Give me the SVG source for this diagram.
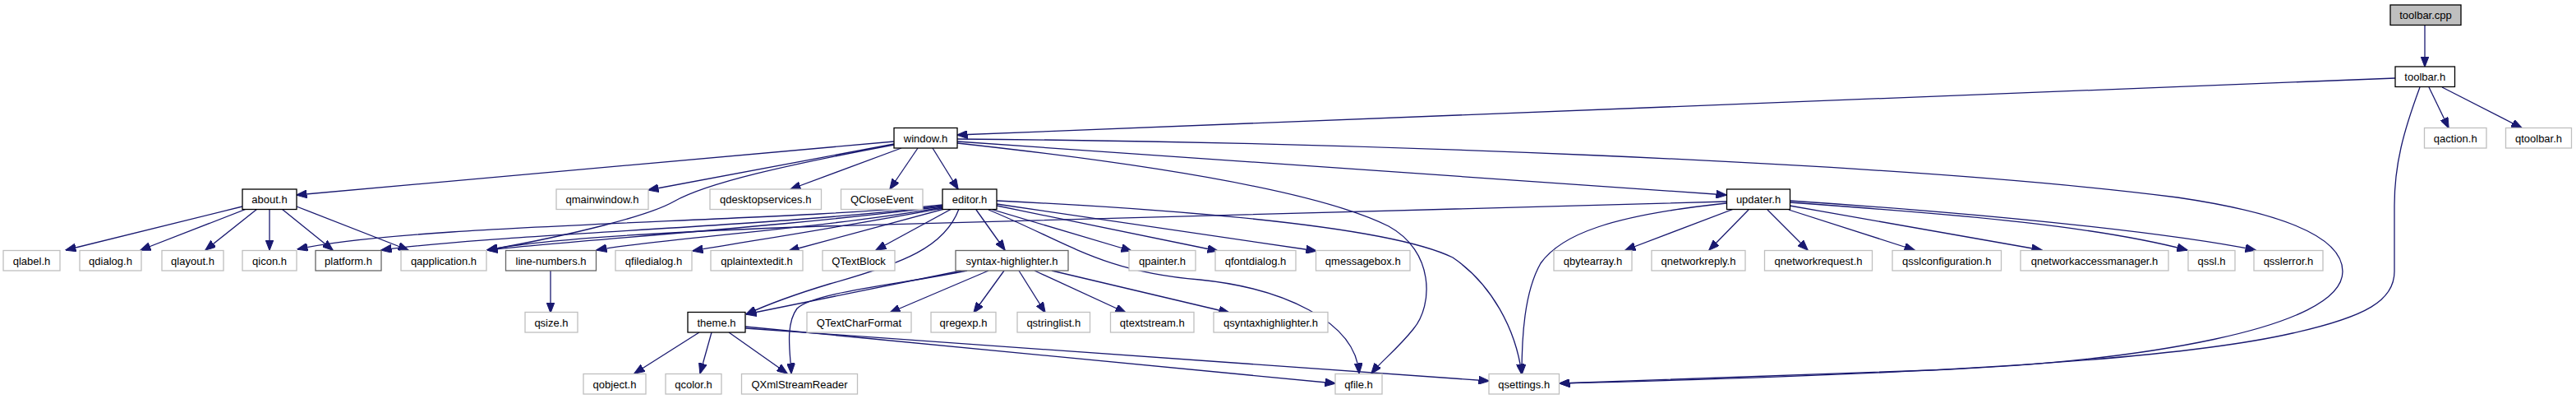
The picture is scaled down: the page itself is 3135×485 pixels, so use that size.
<svg xmlns="http://www.w3.org/2000/svg" width="3135" height="485" viewBox="0 0 3135 485">
<style>
.b rect{fill:#fff;stroke:#000;stroke-width:1.3}
.x rect{fill:#fff;stroke:#bfbfbf;stroke-width:1.3}
.u rect{fill:#fff;stroke:#666;stroke-width:1.3}
.r rect{fill:#bfbfbf;stroke:#000;stroke-width:1.3}
text{font-family:"Liberation Sans",Arial,Helvetica,sans-serif;font-size:13px;fill:#000;text-anchor:middle}
#edges path{fill:none;stroke:#191970;stroke-width:1.3;marker-end:url(#ah)}
</style>
<defs>
<marker id="ah" markerUnits="userSpaceOnUse" markerWidth="13" markerHeight="10" refX="12.5" refY="5" orient="auto">
<path d="M0,0 L13,5 L0,10 z" fill="#191970" stroke="#191970" stroke-width="1"/>
</marker>
</defs>
<rect width="3135" height="485" fill="#fff"/>
<g id="edges">
<path d="M2951,31 L2951,81"/>
<path d="M2915,95 L1165,164"/>
<path d="M2956,106 L2980,155.5"/>
<path d="M2972,106 L3069,155.5"/>
<path d="M2945,106 C2925,160 2914,200 2914,250 L2914,330 C2914,365 2880,385 2790,405 C2650,437 2350,455 1898,466"/>
<path d="M1165,169 C1600,172 2300,195 2650,240 C2800,262 2851,295 2851,330 C2851,400 2600,440 2350,450 L1898,466"/>
<path d="M1088,172 L361,237"/>
<path d="M1088,175 L789,231"/>
<path d="M1097,180 L962,230"/>
<path d="M1117,180 L1083,230"/>
<path d="M1135,180 L1166,230"/>
<path d="M1165,172 L2101,237"/>
<path d="M1165,174 C1450,205 1620,240 1690,275 C1745,305 1745,370 1720,400 C1700,425 1680,440 1669,454"/>
<path d="M1088,176 C960,200 860,222 820,245 C790,262 700,285 593,304"/>
<path d="M295,251 L80,304"/>
<path d="M300,254 L171,304"/>
<path d="M313,254 L250,304"/>
<path d="M328,254 L328,304"/>
<path d="M343,254 L405,304"/>
<path d="M361,251 L497,304"/>
<path d="M1147,249 C950,270 500,272 362,303"/>
<path d="M1147,250 C950,275 600,285 464,304"/>
<path d="M1147,251 C950,276 700,292 593,304"/>
<path d="M1147,252 C1000,278 800,290 726,304"/>
<path d="M1148,253 C1000,280 900,295 843,305"/>
<path d="M1149,254 L960,305"/>
<path d="M1158,254 L1066,304"/>
<path d="M1188,255 L1223,304"/>
<path d="M1205,254 L1377,305"/>
<path d="M1213,250 L1482,305"/>
<path d="M1213,248 L1602,305"/>
<path d="M1203,255 C1300,295 1340,330 1460,340 C1560,350 1650,390 1654,454"/>
<path d="M1213,244 C1500,258 1700,280 1768,313 C1815,345 1845,400 1852,455"/>
<path d="M1167,254 C1150,300 1100,320 1010,345 C960,360 930,372 908,382"/>
<path d="M2101,245 L1000,275 C800,282 650,292 593,304"/>
<path d="M2101,247 C1960,262 1900,285 1875,320 C1855,355 1852,410 1852,455"/>
<path d="M851,404 L772,454"/>
<path d="M866,404 L852,454"/>
<path d="M887,404 L958,454"/>
<path d="M907,397 L1625,466"/>
<path d="M907,399 L1812,463"/>
<path d="M1170,329 L908,382"/>
<path d="M1177,329 C1100,345 990,355 970,375 C955,395 962,430 963,454"/>
<path d="M1203,329 L1083,380"/>
<path d="M1222,329 L1185,380"/>
<path d="M1240,329 L1272,380"/>
<path d="M1259,329 L1370,380"/>
<path d="M1280,329 L1496,380"/>
<path d="M670,329 L670,380"/>
<path d="M2110,254 L1978,304"/>
<path d="M2128,255 L2080,304"/>
<path d="M2151,255 L2200,304"/>
<path d="M2177,255 L2330,304"/>
<path d="M2178,250 L2485,304"/>
<path d="M2178,246 C2400,262 2550,275 2662,304"/>
<path d="M2178,244 C2450,262 2650,285 2745,304"/>
</g>
<g id="nodes">
<g id="n-toolbar-cpp" class="r"><rect x="2909" y="6" width="86" height="24.5"/><text x="2952" y="23">toolbar.cpp</text></g>
<g id="n-toolbar-h" class="b"><rect x="2915" y="81" width="72.5" height="24.5"/><text x="2951.25" y="98">toolbar.h</text></g>
<g id="n-qaction" class="x"><rect x="2950.5" y="155.5" width="75.5" height="24.5"/><text x="2988.25" y="172.5">qaction.h</text></g>
<g id="n-qtoolbar" class="x"><rect x="3049.5" y="155.5" width="80" height="24.5"/><text x="3089.5" y="172.5">qtoolbar.h</text></g>
<g id="n-window" class="b"><rect x="1088" y="155.5" width="77" height="24.5"/><text x="1126.5" y="172.5">window.h</text></g>
<g id="n-about" class="b"><rect x="295" y="230" width="66" height="24.5"/><text x="328" y="247">about.h</text></g>
<g id="n-qmainwindow" class="x"><rect x="677" y="230" width="112" height="24.5"/><text x="733" y="247">qmainwindow.h</text></g>
<g id="n-qdesktopservices" class="x"><rect x="864" y="230" width="135.5" height="24.5"/><text x="931.75" y="247">qdesktopservices.h</text></g>
<g id="n-QCloseEvent" class="x"><rect x="1023.5" y="230" width="99.5" height="24.5"/><text x="1073.25" y="247">QCloseEvent</text></g>
<g id="n-editor" class="b"><rect x="1147" y="230" width="66" height="24.5"/><text x="1180" y="247">editor.h</text></g>
<g id="n-updater" class="b"><rect x="2101.5" y="230" width="77" height="24.5"/><text x="2140" y="247">updater.h</text></g>
<g id="n-qlabel" class="x"><rect x="4" y="304.5" width="69" height="24.5"/><text x="38.5" y="321.5">qlabel.h</text></g>
<g id="n-qdialog" class="x"><rect x="97" y="304.5" width="75" height="24.5"/><text x="134.5" y="321.5">qdialog.h</text></g>
<g id="n-qlayout" class="x"><rect x="197" y="304.5" width="75" height="24.5"/><text x="234.5" y="321.5">qlayout.h</text></g>
<g id="n-qicon" class="x"><rect x="295" y="304.5" width="66" height="24.5"/><text x="328" y="321.5">qicon.h</text></g>
<g id="n-platform" class="u"><rect x="384" y="304.5" width="80" height="24.5"/><text x="424" y="321.5">platform.h</text></g>
<g id="n-qapplication" class="x"><rect x="488" y="304.5" width="104" height="24.5"/><text x="540" y="321.5">qapplication.h</text></g>
<g id="n-line-numbers" class="u"><rect x="615.5" y="304.5" width="110" height="24.5"/><text x="670.5" y="321.5">line-numbers.h</text></g>
<g id="n-qfiledialog" class="x"><rect x="749" y="304.5" width="93" height="24.5"/><text x="795.5" y="321.5">qfiledialog.h</text></g>
<g id="n-qplaintextedit" class="x"><rect x="865" y="304.5" width="112" height="24.5"/><text x="921" y="321.5">qplaintextedit.h</text></g>
<g id="n-QTextBlock" class="x"><rect x="1001" y="304.5" width="88" height="24.5"/><text x="1045" y="321.5">QTextBlock</text></g>
<g id="n-syntax-highlighter" class="u"><rect x="1163" y="304.5" width="137" height="24.5"/><text x="1231.5" y="321.5">syntax-highlighter.h</text></g>
<g id="n-qpainter" class="x"><rect x="1374" y="304.5" width="81" height="24.5"/><text x="1414.5" y="321.5">qpainter.h</text></g>
<g id="n-qfontdialog" class="x"><rect x="1479" y="304.5" width="98" height="24.5"/><text x="1528" y="321.5">qfontdialog.h</text></g>
<g id="n-qmessagebox" class="x"><rect x="1601.5" y="304.5" width="114.5" height="24.5"/><text x="1658.75" y="321.5">qmessagebox.h</text></g>
<g id="n-qbytearray" class="x"><rect x="1891" y="304.5" width="95" height="24.5"/><text x="1938.5" y="321.5">qbytearray.h</text></g>
<g id="n-qnetworkreply" class="x"><rect x="2010" y="304.5" width="114" height="24.5"/><text x="2067" y="321.5">qnetworkreply.h</text></g>
<g id="n-qnetworkrequest" class="x"><rect x="2147.5" y="304.5" width="131" height="24.5"/><text x="2213" y="321.5">qnetworkrequest.h</text></g>
<g id="n-qsslconfiguration" class="x"><rect x="2303" y="304.5" width="132.5" height="24.5"/><text x="2369.25" y="321.5">qsslconfiguration.h</text></g>
<g id="n-qnetworkaccessmanager" class="x"><rect x="2459" y="304.5" width="180" height="24.5"/><text x="2549" y="321.5">qnetworkaccessmanager.h</text></g>
<g id="n-qssl" class="x"><rect x="2663" y="304.5" width="57" height="24.5"/><text x="2691.5" y="321.5">qssl.h</text></g>
<g id="n-qsslerror" class="x"><rect x="2743" y="304.5" width="84" height="24.5"/><text x="2785" y="321.5">qsslerror.h</text></g>
<g id="n-qsize" class="x"><rect x="639" y="379.5" width="64" height="24.5"/><text x="671" y="396.5">qsize.h</text></g>
<g id="n-theme" class="b"><rect x="837" y="379.5" width="70" height="24.5"/><text x="872" y="396.5">theme.h</text></g>
<g id="n-QTextCharFormat" class="x"><rect x="982" y="379.5" width="127" height="24.5"/><text x="1045.5" y="396.5">QTextCharFormat</text></g>
<g id="n-qregexp" class="x"><rect x="1133" y="379.5" width="79" height="24.5"/><text x="1172.5" y="396.5">qregexp.h</text></g>
<g id="n-qstringlist" class="x"><rect x="1238" y="379.5" width="88.5" height="24.5"/><text x="1282.25" y="396.5">qstringlist.h</text></g>
<g id="n-qtextstream" class="x"><rect x="1351.5" y="379.5" width="101.5" height="24.5"/><text x="1402.25" y="396.5">qtextstream.h</text></g>
<g id="n-qsyntaxhighlighter" class="x"><rect x="1477" y="379.5" width="139" height="24.5"/><text x="1546.5" y="396.5">qsyntaxhighlighter.h</text></g>
<g id="n-qobject" class="x"><rect x="710" y="454.5" width="76" height="24.5"/><text x="748" y="471.5">qobject.h</text></g>
<g id="n-qcolor" class="x"><rect x="810" y="454.5" width="68" height="24.5"/><text x="844" y="471.5">qcolor.h</text></g>
<g id="n-QXmlStreamReader" class="x"><rect x="902.5" y="454.5" width="141" height="24.5"/><text x="973" y="471.5">QXmlStreamReader</text></g>
<g id="n-qfile" class="x"><rect x="1625" y="454.5" width="57" height="24.5"/><text x="1653.5" y="471.5">qfile.h</text></g>
<g id="n-qsettings" class="x"><rect x="1812" y="454.5" width="85.5" height="24.5"/><text x="1854.75" y="471.5">qsettings.h</text></g>
</g>
</svg>
